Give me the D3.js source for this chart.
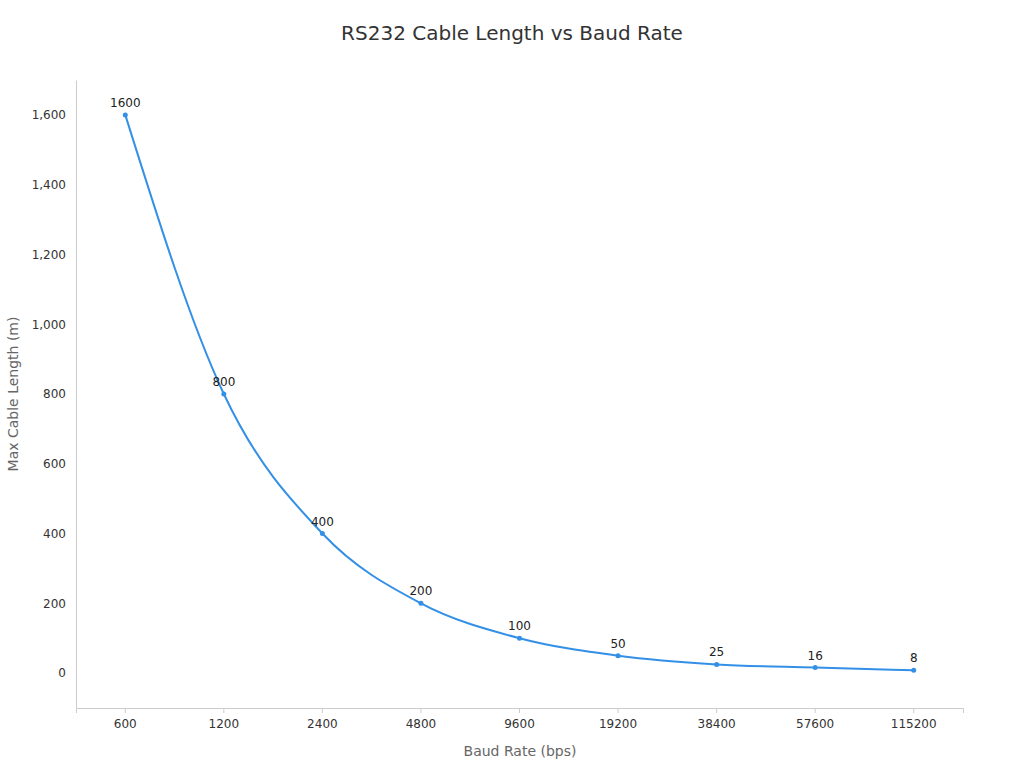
<!DOCTYPE html>
<html><head><meta charset="utf-8">
<script src="https://cdn.jsdelivr.net/npm/d3@7"></script>
<style>body{margin:0;background:#fff;font-family:"DejaVu Sans",sans-serif}</style>
</head><body><svg id="c" width="1024" height="768"></svg>
<script>
const categories = ["600","1200","2400","4800","9600","19200","38400","57600","115200"];
const lengths = [1600,800,400,200,100,50,25,16,8];
const yTicks = [0,200,400,600,800,1000,1200,1400,1600];

const svg = d3.select("#c");
const L=76,R=963,T=80,B=708;
const x = d3.scaleBand().domain(categories).range([L,R]);
const y = d3.scaleLinear().domain([-100,1700]).range([B,T]);
const col = "#3390e6";

svg.append("text").attr("x",512).attr("y",40).attr("text-anchor","middle")
  .attr("font-size",20).attr("fill","#333").text("RS232 Cable Length vs Baud Rate");

const xa = svg.append("g").attr("transform",`translate(0,${B})`)
  .call(d3.axisBottom(x).tickSizeOuter(0).tickSize(5).tickPadding(6));
xa.selectAll("line,path").attr("stroke","#ccc");
xa.selectAll("text").attr("font-size",12).attr("fill","#333").attr("font-family","DejaVu Sans");

const ya = svg.append("g").attr("transform",`translate(${L},0)`)
  .call(d3.axisLeft(y).tickValues(yTicks).tickSize(0).tickPadding(10).tickSizeOuter(0));
ya.selectAll("path").attr("stroke","#ccc");
ya.selectAll("text").attr("font-size",12).attr("fill","#333").attr("font-family","DejaVu Sans");

svg.append("text").attr("x",520).attr("y",756).attr("text-anchor","middle")
  .attr("font-size",14).attr("fill","#666").text("Baud Rate (bps)");
svg.append("text").attr("transform","translate(18,394) rotate(-90)").attr("text-anchor","middle")
  .attr("font-size",14).attr("fill","#666").text("Max Cable Length (m)");

const data = categories.map((c,i)=>({c,v:lengths[i]}));
const cx = d=>x(d.c)+x.bandwidth()/2;
svg.append("path").datum(data).attr("fill","none").attr("stroke",col).attr("stroke-width",2)
  .attr("d",d3.line().x(cx).y(d=>y(d.v)).curve(d3.curveMonotoneX));
svg.selectAll("circle.p").data(data).join("circle").attr("cx",cx).attr("cy",d=>y(d.v))
  .attr("r",2.5).attr("fill",col);
svg.selectAll("text.l").data(data).join("text").attr("x",cx).attr("y",d=>y(d.v)-8)
  .attr("text-anchor","middle").attr("font-size",12).attr("fill","#222").text(d=>d.v);
</script></body></html>
